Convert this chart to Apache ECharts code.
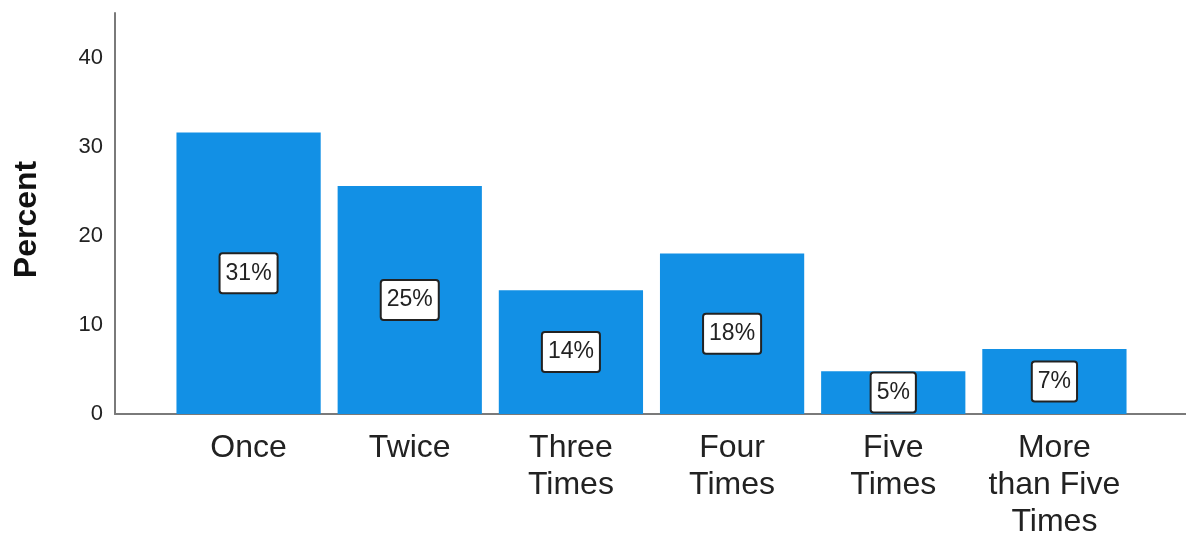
<!DOCTYPE html>
<html>
<head>
<meta charset="utf-8">
<script src="https://cdn.jsdelivr.net/npm/echarts@6/dist/echarts.min.js"></script>
<style>html,body{margin:0;padding:0;background:#fff}#c{width:1186px;height:534px}</style>
</head>
<body>
<div id="c"></div>
<script>
var categories = ["Once", "Twice", "Three Times", "Four Times", "Five Times", "More than Five Times"];
var axisLabels = ["Once", "Twice", "Three\nTimes", "Four\nTimes", "Five\nTimes", "More\nthan Five\nTimes"];
var percentValues = [31.6, 25.6, 13.9, 18.0, 4.8, 7.3];
var pctLabels = ["31%", "25%", "14%", "18%", "5%", "7%"];
var yTicks = [0, 10, 20, 30, 40];

var chart = echarts.init(document.getElementById('c'));
var FONT = '"Liberation Sans", Arial, sans-serif';
chart.setOption({
  animation: false,
  grid: [
    {left: 115, right: 0, top: 13, bottom: 120, outerBoundsMode: 'none', containLabel: false},
    {left: 168, width: 967, top: 13, bottom: 120, outerBoundsMode: 'none', containLabel: false}
  ],
  xAxis: [
    {gridIndex: 0, type: 'value', min: 0, max: 1, axisLine: {show: true, lineStyle: {color: '#7a7a7a', width: 2}}, axisTick: {show: false}, axisLabel: {show: false}, splitLine: {show: false}},
    {gridIndex: 1, type: 'category', data: categories, axisLine: {show: false}, axisTick: {show: false},
     axisLabel: {interval: 0, margin: 16, fontFamily: FONT, fontSize: 32, color: '#222', lineHeight: 37,
       formatter: function (v, i) { return axisLabels[i]; }}}
  ],
  yAxis: [
    {gridIndex: 0, type: 'value', min: 0, max: 45, interval: 10,
     axisLine: {show: true, lineStyle: {color: '#7a7a7a', width: 2}}, axisTick: {show: false}, splitLine: {show: false},
     axisLabel: {margin: 12, fontFamily: FONT, fontSize: 22, color: '#222',
       formatter: function (v) { return yTicks.indexOf(v) >= 0 ? String(v) : ''; }},
     name: 'Percent', nameLocation: 'middle', nameGap: 72,
     nameTextStyle: {fontFamily: FONT, fontSize: 32, fontWeight: 'bold', color: '#111', padding: [0, 0, 0, -12]}},
    {gridIndex: 1, type: 'value', min: 0, max: 45, show: false}
  ],
  series: [{
    type: 'bar', xAxisIndex: 1, yAxisIndex: 1, data: percentValues, barCategoryGap: '10.5%',
    itemStyle: {color: '#1290e5'},
    label: {show: true, position: 'inside', fontFamily: FONT, fontSize: 23, color: '#222',
      backgroundColor: '#fff', borderColor: '#222', borderWidth: 2, borderRadius: 2, padding: [8, 5, 7, 5],
      formatter: function (p) { return pctLabels[p.dataIndex]; }}
  }]
});
</script>
</body>
</html>
